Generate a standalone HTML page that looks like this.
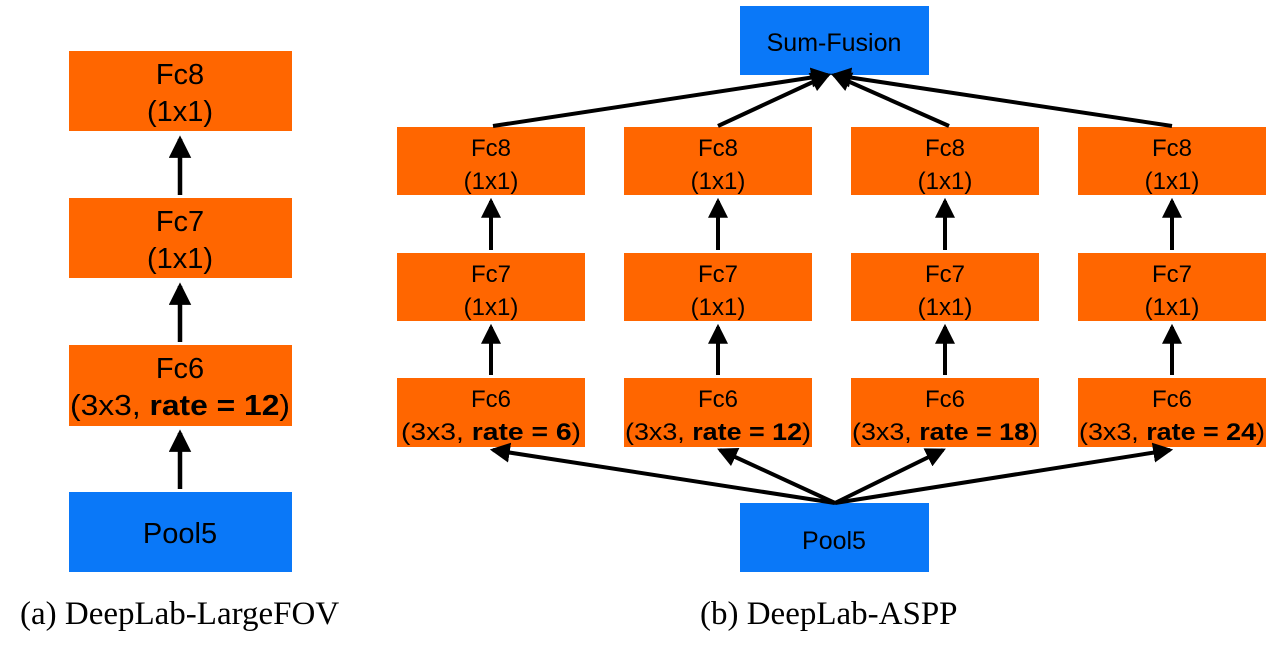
<!DOCTYPE html>
<html><head><style>
html,body{margin:0;padding:0;background:#fff;}
svg{display:block;}
.s{font-family:"Liberation Sans",sans-serif;fill:#000;text-anchor:middle;}
.c{font-family:"Liberation Serif",serif;font-size:33px;fill:#000;}
</style></head><body>
<svg width="1281" height="645" viewBox="0 0 1281 645" xmlns="http://www.w3.org/2000/svg">
<defs>
<marker id="a" markerWidth="5" markerHeight="5" refX="4.2" refY="2.5" orient="auto" markerUnits="strokeWidth">
<path d="M0,0 L5,2.5 L0,5 Z" fill="#000"/></marker>
</defs>
<g>
<rect x="69" y="51" width="223" height="80" fill="#ff6600"/>
<rect x="69" y="198" width="223" height="80" fill="#ff6600"/>
<rect x="69" y="345" width="223" height="81" fill="#ff6600"/>
<rect x="69" y="492" width="223" height="80" fill="#0a78f8"/>
<text class="s" font-size="29" x="180" y="84">Fc8</text>
<text class="s" font-size="29" x="180" y="121">(1x1)</text>
<text class="s" font-size="29" x="180" y="231">Fc7</text>
<text class="s" font-size="29" x="180" y="268">(1x1)</text>
<text class="s" font-size="29" x="180" y="378">Fc6</text>
<text class="s" font-size="29" x="180" y="415" textLength="220" lengthAdjust="spacingAndGlyphs">(3x3, <tspan font-weight="bold">rate = 12</tspan>)</text>
<text class="s" font-size="29" x="180" y="543">Pool5</text>
<g stroke="#000" stroke-width="4.5" marker-end="url(#a)">
<line x1="180" y1="195" x2="180" y2="139"/>
<line x1="180" y1="342" x2="180" y2="286"/>
<line x1="180" y1="489" x2="180" y2="433"/>
</g>
<text class="c" x="20" y="624">(a) DeepLab-LargeFOV</text>
</g>
<g>
<rect x="740" y="6" width="189" height="69" fill="#0a78f8"/>
<text class="s" font-size="25" x="834" y="51">Sum-Fusion</text>
<rect x="740" y="503" width="189" height="69" fill="#0a78f8"/>
<text class="s" font-size="25" x="834" y="549">Pool5</text>
</g>
<g>
<rect x="397" y="127" width="188" height="68" fill="#ff6600"/>
<rect x="397" y="253" width="188" height="68" fill="#ff6600"/>
<rect x="397" y="378" width="188" height="69" fill="#ff6600"/>
<rect x="624" y="127" width="188" height="68" fill="#ff6600"/>
<rect x="624" y="253" width="188" height="68" fill="#ff6600"/>
<rect x="624" y="378" width="188" height="69" fill="#ff6600"/>
<rect x="851" y="127" width="188" height="68" fill="#ff6600"/>
<rect x="851" y="253" width="188" height="68" fill="#ff6600"/>
<rect x="851" y="378" width="188" height="69" fill="#ff6600"/>
<rect x="1078" y="127" width="188" height="68" fill="#ff6600"/>
<rect x="1078" y="253" width="188" height="68" fill="#ff6600"/>
<rect x="1078" y="378" width="188" height="69" fill="#ff6600"/>
</g>
<g class="s" font-size="24">
<text x="491" y="156">Fc8</text><text x="491" y="189">(1x1)</text>
<text x="491" y="282">Fc7</text><text x="491" y="315">(1x1)</text>
<text x="491" y="407">Fc6</text><text x="491" y="440" textLength="180" lengthAdjust="spacingAndGlyphs">(3x3, <tspan font-weight="bold">rate = 6</tspan>)</text>
<text x="718" y="156">Fc8</text><text x="718" y="189">(1x1)</text>
<text x="718" y="282">Fc7</text><text x="718" y="315">(1x1)</text>
<text x="718" y="407">Fc6</text><text x="718" y="440" textLength="186" lengthAdjust="spacingAndGlyphs">(3x3, <tspan font-weight="bold">rate = 12</tspan>)</text>
<text x="945" y="156">Fc8</text><text x="945" y="189">(1x1)</text>
<text x="945" y="282">Fc7</text><text x="945" y="315">(1x1)</text>
<text x="945" y="407">Fc6</text><text x="945" y="440" textLength="186" lengthAdjust="spacingAndGlyphs">(3x3, <tspan font-weight="bold">rate = 18</tspan>)</text>
<text x="1172" y="156">Fc8</text><text x="1172" y="189">(1x1)</text>
<text x="1172" y="282">Fc7</text><text x="1172" y="315">(1x1)</text>
<text x="1172" y="407">Fc6</text><text x="1172" y="440" textLength="186" lengthAdjust="spacingAndGlyphs">(3x3, <tspan font-weight="bold">rate = 24</tspan>)</text>
</g>
<g stroke="#000" stroke-width="4" marker-end="url(#a)">
<line x1="491" y1="250" x2="491" y2="201"/>
<line x1="491" y1="375" x2="491" y2="327"/>
<line x1="718" y1="250" x2="718" y2="201"/>
<line x1="718" y1="375" x2="718" y2="327"/>
<line x1="945" y1="250" x2="945" y2="201"/>
<line x1="945" y1="375" x2="945" y2="327"/>
<line x1="1172" y1="250" x2="1172" y2="201"/>
<line x1="1172" y1="375" x2="1172" y2="327"/>
<line x1="493" y1="126" x2="828" y2="75"/>
<line x1="718" y1="126" x2="828" y2="75"/>
<line x1="949" y1="126" x2="834" y2="75"/>
<line x1="1172" y1="126" x2="834" y2="75"/>
<line x1="835" y1="503" x2="493" y2="450"/>
<line x1="835" y1="503" x2="720" y2="450"/>
<line x1="835" y1="503" x2="943" y2="450"/>
<line x1="835" y1="503" x2="1170" y2="450"/>
</g>
<text class="c" x="700" y="624">(b) DeepLab-ASPP</text>
</svg>
</body></html>
